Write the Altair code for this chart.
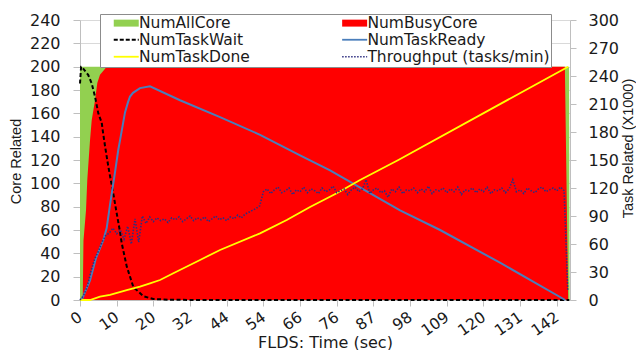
import altair as alt
import pandas as pd

# ---------------- data ----------------
time_labels = ["0", "10", "20", "32", "44", "54", "66", "76", "87", "98", "109", "120", "131", "142"]

# legend order is column-major: first column, then second column
series_names = ["NumAllCore", "NumTaskWait", "NumTaskDone",
                "NumBusyCore", "NumTaskReady", "Throughput (tasks/min)"]
series_colors = ["#92D050", "#000000", "#FFFF00", "#FF0000", "#4A7EBB", "#2E2E80"]

# core related (left axis), x = sample index
all_core_t = [0, 133.35, 133.5]
all_core_v = [200, 200, 0]

busy_core_t = [0, 0.74, 0.95, 1.64, 1.99, 2.73, 3.19, 4.09, 4.72, 5.45, 6.27, 7.28, 132.2, 133.1]
busy_core_v = [0, 0, 51, 77, 103, 137, 154, 171, 186, 193, 196, 200, 200, 0]

# task related (right axis, x1000)
task_wait_t = [0, 0.3, 0.46, 2.26, 3.19, 4.09, 4.99, 5.92, 6.19, 6.82, 7.64, 8.32, 9.08, 10.0,
               10.91, 11.37, 12.74, 14.54, 17.26, 19.99, 24.5, 32.7, 133.4]
task_wait_v = [232, 250, 250, 241, 232, 218, 200, 190, 182, 165, 145, 130, 114, 93,
               73, 61, 36, 14, 4, 1, 0.3, 0, 0]

task_ready_t = [0, 0.46, 2.73, 4.36, 6.35, 7.28, 8.18, 9.55, 10.44, 10.91, 12.27, 13.09, 13.64,
                14.45, 16.36, 19.09, 27.27, 38.18, 49.09, 60.0, 68.18, 87.27, 98.18, 114.5, 132.3]
task_ready_v = [0, 0, 21, 45, 64, 77, 102, 137, 161, 171, 201, 212, 218,
                222, 227, 229, 214, 196, 177, 155, 139, 96, 75, 40, 0]

task_done_t = [0, 2.73, 5.45, 8.18, 12.74, 16.36, 19.09, 21.82, 25.45, 32.73, 38.18, 49.09,
               56.37, 62.72, 70.0, 76.36, 86.8, 133.1]
task_done_v = [0, 0, 3.6, 5.4, 10.7, 14.3, 17.9, 21.4, 28.6, 42.9, 53.6, 71.4,
               85.7, 99.6, 114.3, 128.6, 150, 250]

throughput_v = [
    0, 5, 15, 31, 44, 52, 62, 69, 72, 77,
    71, 75, 65, 79, 60, 87, 62, 90, 82, 89,
    84, 88, 85, 87, 83, 88, 86, 89, 84, 87,
    90, 85, 88, 86, 89, 84, 87, 90, 86, 88,
    85, 89, 87, 91, 88, 92, 94, 96, 98, 101,
    116, 119, 114, 118, 121, 115, 117, 120, 113, 118,
    116, 121, 115, 119, 117, 114, 120, 116, 118, 122,
    115, 117, 119, 113, 118, 121, 116, 119, 129, 114,
    118, 120, 115, 117, 110, 119, 116, 121, 114, 118,
    117, 120, 115, 119, 116, 122, 114, 118, 117, 120,
    115, 119, 116, 121, 113, 118, 117, 120, 115, 119,
    116, 121, 114, 118, 117, 120, 115, 119, 129, 116,
    118, 114, 120, 117, 115, 119, 121, 116, 118, 120,
    117, 121, 117, 10]
throughput_t = list(range(len(throughput_v)))


def frame(t, v, name):
    return pd.DataFrame({"t": t, "v": v, "series": name})


df_all = frame(all_core_t, all_core_v, "NumAllCore")
df_busy = frame(busy_core_t, busy_core_v, "NumBusyCore")
df_wait = frame(task_wait_t, task_wait_v, "NumTaskWait")
df_ready = frame(task_ready_t, task_ready_v, "NumTaskReady")
df_done = frame(task_done_t, task_done_v, "NumTaskDone")
df_thr = frame(throughput_t, throughput_v, "Throughput (tasks/min)")

# ---------------- styling ----------------
font_h = "DejaVu Sans"
font_v = "Liberation Sans"
text_color = "#1a1a1a"
grid_color = "#d9d9d9"
axis_gray = "#bfbfbf"

label_expr = "[" + ",".join("'%s'" % s for s in time_labels) + "][round(datum.value / 10)]"

x_enc = alt.X("t:Q",
              scale=alt.Scale(domain=[0, 133.6], nice=False, zero=False),
              axis=alt.Axis(values=list(range(0, 131, 10)), labelExpr=label_expr,
                            title="FLDS: Time (sec)", titleFont=font_h, titleFontSize=16,
                            titleFontWeight="normal", titleColor=text_color,
                            titleY=47, titleBaseline="alphabetic",
                            labelFont=font_h, labelFontSize=15.5, labelColor=text_color,
                            labelAngle=-35, labelAlign="right", labelBaseline="middle",
                            labelPadding=9, tickSize=6, tickColor=axis_gray,
                            domainColor=axis_gray, grid=False,
                            labelFlush=False, labelOverlap=False))

y_left = alt.Y("v:Q", stack=None,
               scale=alt.Scale(domain=[0, 240], nice=False),
               axis=alt.Axis(values=list(range(0, 241, 20)), title="Core Related",
                             titleFont=font_v, titleFontSize=14.5, titleFontWeight="normal",
                             titleColor=text_color, titleAngle=270, titleX=-64, titleY=141,
                             titleBaseline="middle", titleAlign="center",
                             labelFont=font_h, labelFontSize=16, labelColor=text_color,
                             labelPadding=13, tickSize=7, tickColor=axis_gray,
                             domainColor=axis_gray, grid=True, gridColor=grid_color))

y_right = alt.Y("v:Q", stack=None,
                scale=alt.Scale(domain=[0, 300], nice=False),
                axis=alt.Axis(orient="right", values=list(range(0, 301, 30)),
                              title="Task Related (X1000)",
                              titleFont=font_v, titleFontSize=14.5, titleFontWeight="normal",
                              titleColor=text_color, titleAngle=270, titleX=58, titleY=128,
                              titleBaseline="middle", titleAlign="center",
                              labelFont=font_h, labelFontSize=16, labelColor=text_color,
                              labelPadding=12, tickSize=6, tickColor=axis_gray,
                              domainColor=axis_gray, grid=False))


# ---------------- legend symbol shapes (unit = 6 px for symbolSize 144) ----------------
def segs(start, end, dash, gap, half):
    out, a = [], start
    while a < end - 1e-9:
        b = min(a + dash, end)
        out.append("M%.3f,%.3fH%.3fV%.3fH%.3fZ" % (a, -half, b, half, a))
        a = b + gap
    return "".join(out)


W = 2.083
rect_path = segs(-W, W, 2 * W, 0, 0.58)
line_path = segs(-W, W, 2 * W, 0, 0.15)
dash_path = segs(-W, W, 0.667, 0.333, 0.17)
dot_path = segs(-W, W, 0.25, 0.25, 0.14)

shape_expr = ("datum.value === 'NumTaskWait' ? '%s' : "
              "(datum.value === 'Throughput (tasks/min)' ? '%s' : "
              "((datum.value === 'NumAllCore' || datum.value === 'NumBusyCore') ? '%s' : '%s'))"
              % (dash_path, dot_path, rect_path, line_path))

NBSP = "\u00a0"


def build(symbol_type):
    legend = alt.Legend(title=None, orient="none", legendX=20, legendY=-6, columns=2,
                        columnPadding=79.4, rowPadding=0, padding=1, fillColor="white",
                        strokeColor="#8c8c8c", labelFont=font_h, labelFontSize=15.5,
                        labelColor=text_color, labelLimit=400, labelOffset=5,
                        symbolOffset=17.5, symbolSize=144, symbolStrokeWidth=0,
                        symbolType=symbol_type,
                        labelExpr="datum.label + '%s'" % NBSP)
    color = alt.Color("series:N", scale=alt.Scale(domain=series_names, range=series_colors),
                      legend=legend)

    all_c = alt.Chart(df_all).mark_area(opacity=1, interpolate="linear").encode(
        x=x_enc, y=y_left, color=color)
    busy_c = alt.Chart(df_busy).mark_area(opacity=1, interpolate="linear").encode(
        x=x_enc, y=y_left, color=color)
    wait_c = alt.Chart(df_wait).mark_line(strokeWidth=2, strokeDash=[4, 2.5]).encode(
        x=x_enc, y=y_right, color=color)
    ready_c = alt.Chart(df_ready).mark_line(strokeWidth=2).encode(
        x=x_enc, y=y_right, color=color)
    done_c = alt.Chart(df_done).mark_line(strokeWidth=1.8).encode(
        x=x_enc, y=y_right, color=color)
    thr_c = alt.Chart(df_thr).mark_line(strokeWidth=1.6, strokeDash=[1.5, 1.5]).encode(
        x=x_enc, y=y_right, color=color)

    areas = alt.layer(all_c, busy_c)
    lines = alt.layer(wait_c, ready_c, done_c, thr_c)
    ch = alt.layer(areas, lines).resolve_scale(y="independent").properties(
        width=490, height=280,
        autosize=alt.AutoSizeParams(type="none"),
        padding={"left": 72, "top": 12, "right": 66, "bottom": 50},
        background="white",
    ).configure_view(stroke=None)
    return ch


chart = None
for st in [{"expr": shape_expr}, rect_path]:
    try:
        c = build(st)
        c.to_dict()
        chart = c
        break
    except Exception:
        pass

chart.save("out.html", embed_options={"renderer": "svg", "actions": False})
